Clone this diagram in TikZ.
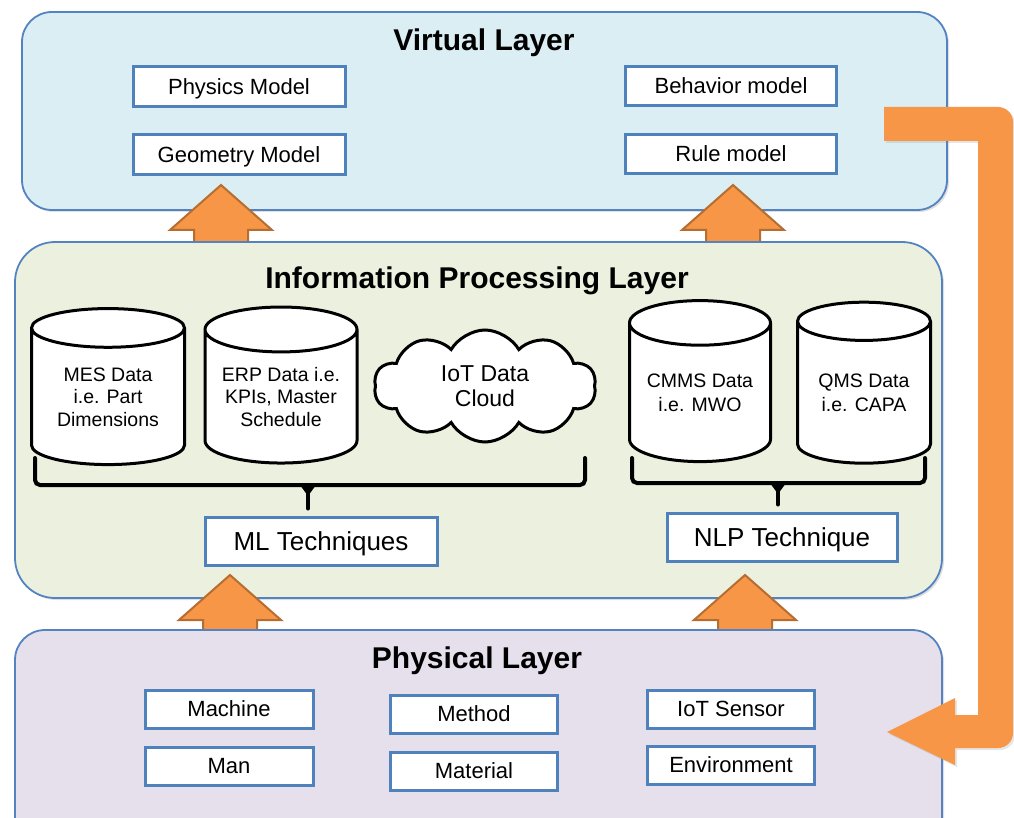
\documentclass[tikz,border=0pt]{standalone}
\usepackage{fontspec}
\setmainfont{Liberation Sans}
\usetikzlibrary{shapes.geometric,shapes.symbols,shadows}

\definecolor{virtualfill}{RGB}{219,238,244}
\definecolor{infofill}{RGB}{235,241,222}
\definecolor{physfill}{RGB}{229,224,236}
\definecolor{layerline}{RGB}{84,131,193}
\definecolor{boxline}{RGB}{79,129,189}
\definecolor{flow}{RGB}{247,150,70}
\definecolor{flowline}{RGB}{182,109,49}

\tikzset{
  uparrow/.pic={
    \draw[fill=flow, draw=flowline, line width=2pt]
      (0,0) -- (51,45) -- (27,45) -- (27,68) -- (-27,68) -- (-27,45) -- (-51,45) -- cycle;
  }
}

\begin{document}
\begin{tikzpicture}[x=1pt,y=-1pt]
   \tikzstyle{every node}=[font=\fontsize{22}{26}\selectfont]
   \tikzstyle{layer}=[draw=layerline, line width=1.8pt, drop shadow={opacity=0.25, shadow xshift=2pt, shadow yshift=-2pt}]
   \tikzstyle{title}=[font=\fontsize{30}{34}\selectfont\bfseries]
   \tikzstyle{model}=[draw=boxline, line width=3pt, fill=white, inner sep=0pt, text depth=0pt]
   \tikzstyle{technique}=[model, font=\fontsize{26}{30}\selectfont]
   \tikzstyle{db}=[cylinder, shape border rotate=90, draw, line width=3pt, fill=white, align=center, inner sep=0pt, font=\fontsize{19.5}{22.5}\selectfont]
   \tikzstyle{groupline}=[line width=4pt, line cap=round, rounded corners=5]

\useasboundingbox (0,0) rectangle (1014,818);

% virtual layer
\draw[layer, fill=virtualfill, rounded corners=30] (22,12) rectangle (947,210);
\node[title] (virtual) at (484,43) {Virtual Layer};
\node[model, minimum width=212, minimum height=40] (physics) at (239,87) {Physics Model};
\node[model, minimum width=212, minimum height=40] (geometry) at (239,155) {Geometry Model};
\node[model, minimum width=211, minimum height=39] (behavior) at (731,86) {Behavior model};
\node[model, minimum width=211, minimum height=39] (rule) at (731,154) {Rule model};

\pic at (221,185) {uparrow};
\pic at (733,185) {uparrow};

% information processing layer
\draw[layer, fill=infofill, rounded corners=40] (15,242) rectangle (942,598);
\node[title] (info) at (477,281) {Information Processing Layer};

\node[db, aspect=0.38, minimum width=153, minimum height=156] (mes) at (108,397) {MES Data\\i.e. Part\\Dimensions};
\node[db, aspect=0.38, minimum width=152, minimum height=156] (erp) at (281,397) {ERP Data i.e.\\KPIs, Master\\Schedule};
\node[cloud, cloud puffs=10, cloud puff arc=120, aspect=2, draw, line width=3pt, fill=white,
      minimum width=222, minimum height=112, align=center, inner sep=0pt,
      font=\fontsize{23}{25}\selectfont] (iot) at (485,386) {IoT Data\\Cloud};
\node[db, aspect=0.42, minimum width=141, minimum height=161, font=\fontsize{19.5}{24}\selectfont] (cmms) at (700,393) {CMMS Data\\i.e. MWO};
\node[db, aspect=0.42, minimum width=133, minimum height=161, font=\fontsize{19.5}{24}\selectfont] (qms) at (864,393) {QMS Data\\i.e. CAPA};

\node[technique, minimum width=232, minimum height=48] (ml) at (321,541) {ML Techniques};
\node[technique, minimum width=230, minimum height=48] (nlp) at (782,537) {NLP Technique};

% grouping brackets
\coordinate (leftgroup) at (308,485);
\coordinate (rightgroup) at (778,483);
\draw[groupline] (35,458) |- (585,485) -- (585,458);
\draw[line width=4pt, line cap=round] (leftgroup) -- ([yshift=7pt]leftgroup |- ml.north);
\fill ([xshift=-8pt]leftgroup) -- ([yshift=-11pt]leftgroup) -- ([xshift=8pt]leftgroup) -- cycle;
\draw[groupline] (632,458) |- (925,483) -- (925,458);
\draw[line width=4pt, line cap=round] (rightgroup) -- ([yshift=7pt]rightgroup |- nlp.north);
\fill ([xshift=-8pt]rightgroup) -- ([yshift=-11pt]rightgroup) -- ([xshift=8pt]rightgroup) -- cycle;

\pic at (230,575) {uparrow};
\pic at (745,575) {uparrow};

% physical layer
\draw[layer, fill=physfill, rounded corners=30] (15,630) rectangle (942,850);
\node[title] (physical) at (477,661) {Physical Layer};
\node[model, minimum width=168, minimum height=38] (machine) at (229,709) {Machine};
\node[model, minimum width=168, minimum height=38] (man) at (229,766) {Man};
\node[model, minimum width=167, minimum height=38] (method) at (474,714) {Method};
\node[model, minimum width=167, minimum height=38] (material) at (474,771) {Material};
\node[model, minimum width=167, minimum height=38] (sensor) at (731,709) {IoT Sensor};
\node[model, minimum width=167, minimum height=38] (environment) at (731,765) {Environment};

% feedback from the virtual layer down to the physical layer
\fill[flow, drop shadow={opacity=0.2, shadow xshift=2pt, shadow yshift=-2pt}]
  (884,107) -- (998,107) arc[start angle=-90, end angle=0, radius=15]
  -- (1013,733) arc[start angle=0, end angle=90, radius=15]
  -- (955,748) -- (955,765) -- (887,732) -- (955,698) -- (955,715)
  -- (978,715) -- (978,141) -- (884,141) -- cycle;

\end{tikzpicture}
\end{document}
